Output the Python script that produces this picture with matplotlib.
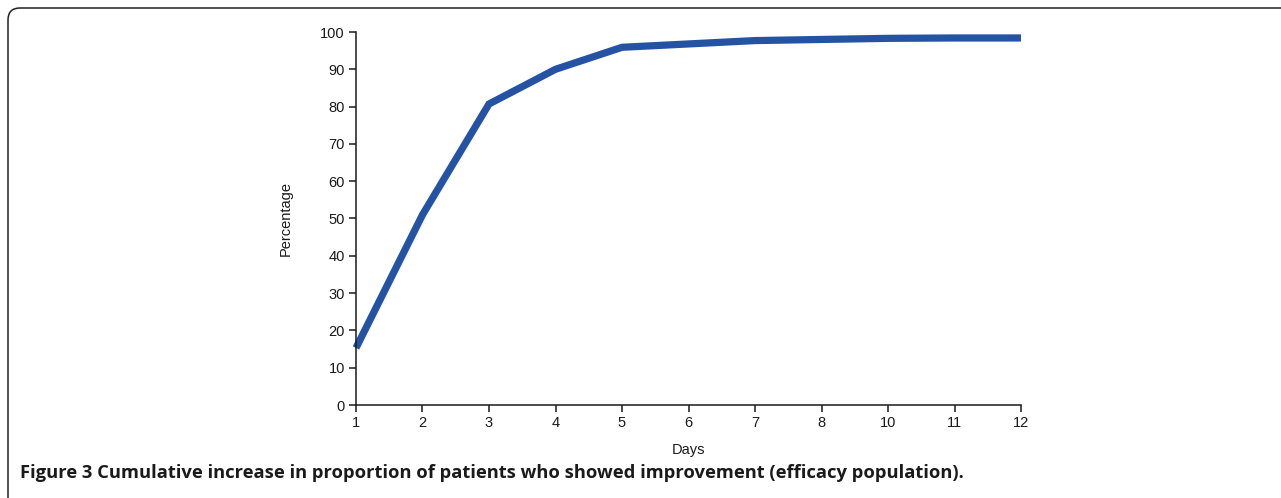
import matplotlib
matplotlib.use("Agg")
import matplotlib.pyplot as plt
from matplotlib.patches import FancyBboxPatch
from matplotlib import font_manager

DAYS = ["1", "2", "3", "4", "5", "6", "7", "8", "10", "11", "12"]
PERCENTAGE = [15.3, 51.0, 80.7, 90.0, 95.9, 96.8, 97.7, 98.0, 98.3, 98.4, 98.4]
CAPTION_BOLD = "Figure 3"
CAPTION = " Cumulative increase in proportion of patients who showed improvement (efficacy population)."

LINE_COLOR = "#2553a3"

names = {f.name for f in font_manager.fontManager.ttflist}
caption_font = "Liberation Sans Narrow" if "Liberation Sans Narrow" in names else "Open Sans"

plt.rcParams["font.family"] = ["Liberation Sans", "DejaVu Sans"]

fig = plt.figure(figsize=(12.81, 4.98), dpi=100)
W, H = 1281, 498

# rounded panel border that runs off the right and bottom edges
frame = FancyBboxPatch(
    (8 / W, -0.1), 1.2, 1 - 8 / H + 0.1,
    boxstyle="round,pad=0,rounding_size=%f" % (12 / W),
    transform=fig.transFigure, fill=False, edgecolor="#222222",
    linewidth=1.1, mutation_aspect=W / H,
)
fig.patches.append(frame)

ax = fig.add_axes([356 / W, 1 - 405 / H, (1021 - 356) / W, (405 - 32) / H])
x = list(range(len(DAYS)))
ax.plot(x, PERCENTAGE, color=LINE_COLOR, linewidth=5.2, solid_joinstyle="miter",
        solid_capstyle="butt", clip_on=False)

ax.set_xlim(0, len(DAYS) - 1)
ax.set_ylim(0, 100)
ax.set_xticks(x)
ax.set_xticklabels(DAYS)
ax.set_yticks(range(0, 101, 10))
ax.spines["top"].set_visible(False)
ax.spines["right"].set_visible(False)
for s in ("left", "bottom"):
    ax.spines[s].set_linewidth(1.1)
    ax.spines[s].set_color("#1a1a1a")
ax.tick_params(direction="out", length=5, width=1.1, color="#1a1a1a",
               labelsize=10.5, labelcolor="#1a1a1a", pad=3)
ax.set_xlabel("Days", fontsize=10.5, color="#1a1a1a", labelpad=9)
ax.set_ylabel("Percentage", fontsize=10.5, color="#1a1a1a", labelpad=20)

fig.text(20 / W, 1 - 478 / H, CAPTION_BOLD + CAPTION, fontsize=13.2,
         fontweight="bold", family=caption_font, color="#1a1a1a",
         va="baseline", ha="left")

fig.savefig("out.png", dpi=100)
